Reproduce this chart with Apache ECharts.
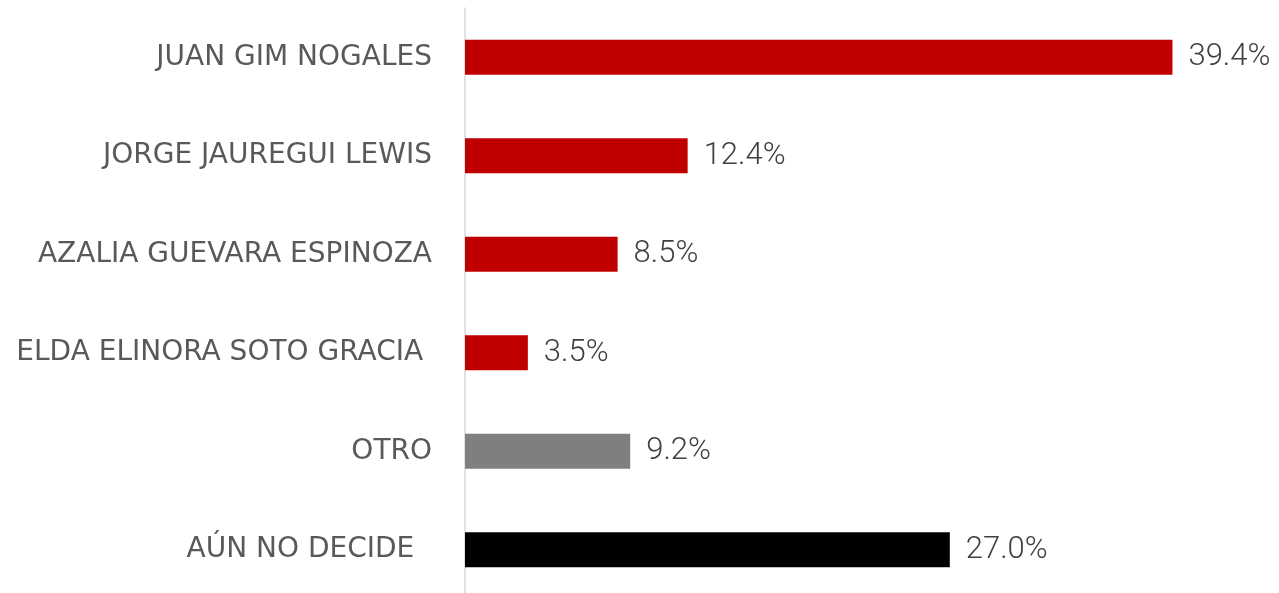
<!DOCTYPE html>
<html>
<head>
<meta charset="utf-8">
<style>
  html, body { margin: 0; padding: 0; background: #fff; overflow: hidden; }
  #main { width: 1279px; height: 600px; }
</style>
<script src="https://cdn.jsdelivr.net/npm/echarts@6/dist/echarts.min.js"></script>
</head>
<body>
<div id="main"></div>
<script>
// datos
const candidatos = ['JUAN GIM NOGALES', 'JORGE JAUREGUI LEWIS', 'AZALIA GUEVARA ESPINOZA', 'ELDA ELINORA SOTO GRACIA ', 'OTRO', 'AÚN NO DECIDE  ']
const porcentajes = [39.4, 12.4, 8.5, 3.5, 9.2, 27.0]
const colores = ['#C00000', '#C00000', '#C00000', '#C00000', '#7F7F7F', '#000000']

const myChart = echarts.init(document.getElementById('main'))
const option = {
  animation: false,
  grid: { left: 465, top: 8, width: 808, height: 591, containLabel: false },
  xAxis: {
    type: 'value',
    min: 0,
    max: 45,
    show: false,
  },
  yAxis: {
    type: 'category',
    inverse: true,
    data: candidatos,
    axisTick: { show: false },
    axisLine: { show: true, lineStyle: { color: '#D9D9D9', width: 1.5 } },
    axisLabel: { margin: 33, color: '#595959', fontSize: 28, fontFamily: 'DejaVu Sans' },
  },
  series: [
    {
      type: 'bar',
      barWidth: 35,
      data: porcentajes.map((v, i) => ({ value: v, itemStyle: { color: colores[i] } })),
      label: {
        show: true,
        position: 'right',
        distance: 16,
        color: '#404040',
        fontSize: 31,
        fontWeight: 300,
        fontFamily: 'Roboto',
        formatter: (p) => p.value.toFixed(1) + '%',
      },
    },
  ],
}
option && myChart.setOption(option)
</script>
</body>
</html>
